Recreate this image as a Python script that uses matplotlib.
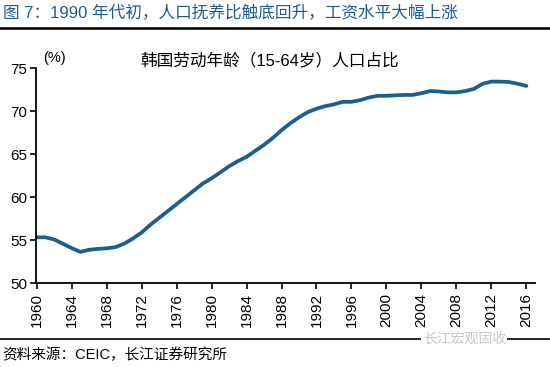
import matplotlib
matplotlib.use("Agg")
import matplotlib.pyplot as plt
from matplotlib.lines import Line2D

plt.rcParams['font.family'] = ['Liberation Sans', 'Noto Sans CJK SC', 'DejaVu Sans']

# Korea working-age (15-64) population share, %
years = list(range(1960, 2017))
share = [55.35, 55.35, 55.1, 54.6, 54.1, 53.65, 53.9, 54.0, 54.07, 54.2,
         54.6, 55.2, 55.9, 56.8, 57.6, 58.4, 59.2, 60.0, 60.8, 61.6,
         62.2, 62.9, 63.6, 64.2, 64.7, 65.4, 66.1, 66.9, 67.8, 68.6,
         69.3, 69.9, 70.3, 70.6, 70.8, 71.1, 71.1, 71.3, 71.6, 71.8,
         71.8, 71.85, 71.9, 71.9, 72.1, 72.35, 72.3, 72.2, 72.2, 72.35,
         72.6, 73.2, 73.45, 73.45, 73.4, 73.2, 72.95]
xticks = list(range(1960, 2017, 4))
yticks = [50, 55, 60, 65, 70, 75]

fig_title = "图 7：1990 年代初，人口抚养比触底回升，工资水平大幅上涨"
chart_title = "韩国劳动年龄（15-64岁）人口占比"
source = "资料来源：CEIC，长江证券研究所"

fig = plt.figure(figsize=(5.5, 3.67), dpi=100)
ax = fig.add_axes([0.065, 0.228, 0.908, 0.586])

ax.plot(years, share, color="#1a5f8e", lw=2.7, solid_capstyle="round")

ax.set_xlim(1959.9, 2017)
ax.set_ylim(50, 75)
ax.set_xticks(xticks)
ax.set_xticklabels([str(y) for y in xticks], rotation=90, fontsize=11)
ax.set_yticks(yticks)
ax.tick_params(axis="y", labelsize=11, direction="out", length=4, width=1.2, pad=2)
ax.tick_params(axis="x", direction="out", length=4, width=1.2, pad=3)
for s in ["top", "right"]:
    ax.spines[s].set_visible(False)
for s in ["left", "bottom"]:
    ax.spines[s].set_linewidth(1.3)

fig.text(0.005, 0.965, fig_title, color="#1d5c8f", fontsize=12, va="center", ha="left")
fig.add_artist(Line2D([0, 1], [0.923, 0.923], color="black", lw=1.8, transform=fig.transFigure))
fig.text(0.49, 0.835, chart_title, fontsize=12, ha="center", va="center")
fig.text(0.078, 0.843, "(%)", fontsize=10.5, ha="left", va="center")

fig.add_artist(Line2D([0, 1], [0.076, 0.076], color="black", lw=1.2, transform=fig.transFigure))
fig.text(0.005, 0.033, source, fontsize=10.5, va="center", ha="left")
fig.text(0.92, 0.078, "长江宏观固收", fontsize=10, color="#c8c8c8", ha="right", va="center",
         bbox=dict(facecolor="white", edgecolor="none", pad=1))

fig.savefig("out.png", dpi=100)
